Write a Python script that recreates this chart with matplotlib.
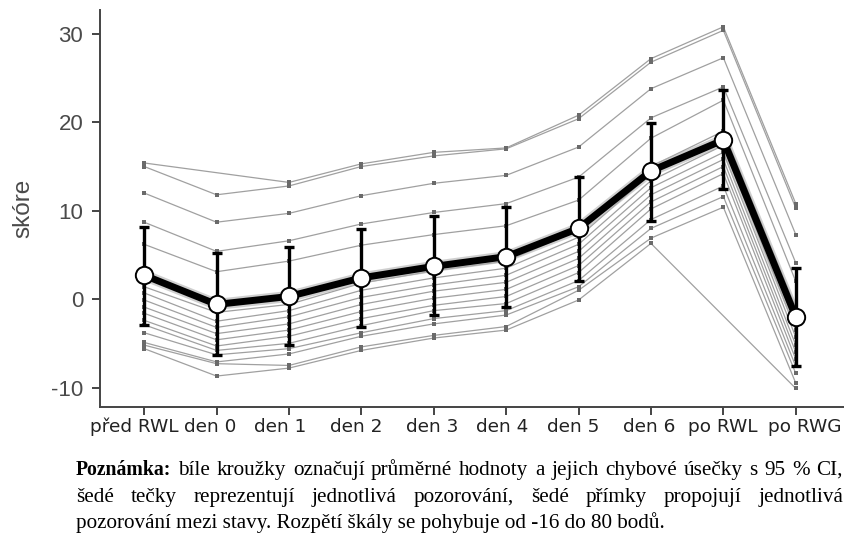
import numpy as np
import matplotlib
matplotlib.use("Agg")
import matplotlib.pyplot as plt
from matplotlib.transforms import ScaledTranslation

states = ["před RWL", "den 0", "den 1", "den 2", "den 3", "den 4",
          "den 5", "den 6", "po RWL", "po RWG"]
nan = np.nan
subjects = [
    [15.4, nan, 13.2, 15.3, 16.6, 17.1, 20.8, 27.2, 30.8, 10.8],
    [15.0, 11.8, 12.8, 15.0, 16.2, 17.0, 20.4, 26.8, 30.4, 10.3],
    [12.0, 8.7, 9.7, 11.7, 13.1, 14.0, 17.2, 23.8, 27.3, 7.3],
    [8.7, 5.4, 6.6, 8.5, 9.8, 10.8, 13.8, 20.5, 24.0, 4.1],
    [6.2, 3.1, 4.3, 6.1, 7.3, 8.3, 11.2, 18.2, 22.5, 2.0],
    [1.4, -1.5, -0.6, 1.8, 3.2, 4.3, 7.8, 15.0, 19.0, -1.0],
    [0.7, -2.5, -1.3, 1.0, 2.4, 3.5, 7.0, 14.2, 18.2, -2.5],
    [-0.1, -3.2, -2.0, 0.2, 1.6, 2.7, 6.2, 13.4, 17.4, -3.5],
    [-0.9, -3.9, -2.8, -0.6, 0.9, 1.9, 5.4, 12.6, 16.6, -4.3],
    [-1.6, -4.6, -3.5, -1.4, 0.1, 1.1, 4.6, 11.8, 15.8, -5.2],
    [-2.4, -5.3, -4.2, -2.2, -0.7, 0.3, 3.8, 11.0, 15.0, -6.0],
    [-2.9, -5.8, -5.0, -3.0, -1.3, -0.5, 3.0, 10.2, 14.2, -6.8],
    [-3.8, -6.3, -5.6, -3.8, -2.2, -1.3, 2.1, 9.0, 12.8, -7.6],
    [-4.9, -7.1, -6.2, -4.2, -2.8, -1.8, 1.4, 8.0, 11.6, -8.4],
    [-5.2, -7.3, -7.5, -5.4, -4.1, -3.1, 1.0, 6.9, 10.4, -9.5],
    [-5.6, -8.7, -7.8, -5.8, -4.4, -3.5, -0.1, 6.3, nan, -10.1],
]
means = [2.7, -0.6, 0.3, 2.4, 3.7, 4.8, 8.0, 14.5, 18.0, -2.0]
ci_lo = [-2.9, -6.3, -5.2, -3.2, -1.8, -0.9, 2.0, 8.8, 12.4, -7.6]
ci_hi = [8.2, 5.2, 5.9, 7.9, 9.4, 10.4, 13.8, 19.9, 23.7, 3.5]
yticks = [-10, 0, 10, 20, 30]

note_l1_bold = "Poznámka:"
note_l1 = "bíle kroužky označují průměrné hodnoty a jejich chybové úsečky s 95 % CI,"
note_l2 = "šedé tečky reprezentují jednotlivá pozorování, šedé přímky propojují jednotlivá"
note_l3 = "pozorování mezi stavy. Rozpětí škály se pohybuje od -16 do 80 bodů."

fig = plt.figure(figsize=(8.45, 5.41), dpi=100)
ax = fig.add_axes([100/845, 134/541, 1 - 100/845, (407-10)/541])

x = np.arange(len(states))
for s in subjects:
    arr = np.array(s, dtype=float)
    m = ~np.isnan(arr)
    ax.plot(x[m], arr[m], color="#a0a0a0", lw=0.9, zorder=1)
    ax.plot(x[m], arr[m], "s", color="#6a6a6a", ms=2.8, mew=0, zorder=2)

ax.plot(x, means, color="#b0b0b0", lw=8, alpha=0.6, zorder=3, solid_capstyle="round")
ax.plot(x, means, color="black", lw=5, zorder=4, solid_joinstyle="round")
lo = np.array(means) - np.array(ci_lo)
hi = np.array(ci_hi) - np.array(means)
ax.errorbar(x, means, yerr=[lo, hi], fmt="none", ecolor="black", elinewidth=2.4,
            capsize=3.6, capthick=2.4, zorder=5)
ax.plot(x, means, "o", ms=12.5, mfc="white", mec="black", mew=1.4, zorder=6)

ax.set_xlim(-0.61, 9.68)
ax.set_ylim(-12.2, 32.7)
ax.set_xticks(x)
ax.set_xticklabels([])
# category labels with small horizontal nudges (pixels), as in the reference
nudges = [-10, -6, -9, -5, -2, -4, -5, -2, -1, 9]
base = ax.get_xaxis_transform()
for xi, lab, dx in zip(x, states, nudges):
    tr = base + ScaledTranslation(dx / 100, -11 / 100, fig.dpi_scale_trans)
    ax.text(xi, 0, lab, transform=tr, ha="center", va="top", fontsize=13.3,
            color="#222222", clip_on=False)
ax.set_yticks(yticks)
ax.set_yticklabels([str(t) for t in yticks], fontsize=16, family="Liberation Sans",
                   color="#4a4a4a")
ax.set_ylabel("skóre", fontsize=17.5, family="Liberation Sans", color="#4a4a4a", labelpad=12)
for sp in ["top", "right"]:
    ax.spines[sp].set_visible(False)
for sp in ["left", "bottom"]:
    ax.spines[sp].set_color("#444444")
    ax.spines[sp].set_linewidth(1.4)
ax.tick_params(axis="x", direction="out", length=6, width=1.4, color="#444444", pad=5)
ax.tick_params(axis="y", direction="out", length=6, width=1.4, color="#444444", pad=6)

# Note text
serif = "Liberation Serif"
fs = 15.2
fsb = 14.2
fig.canvas.draw()
r = fig.canvas.get_renderer()

def width_of(t, size, weight="normal"):
    tt = fig.text(0, 0, t, fontsize=size, family=serif, weight=weight)
    w = tt.get_window_extent(renderer=r).width
    tt.remove()
    return w

def justify(tokens, sizes, weights, y, x0, x1):
    widths = [width_of(t, s, w) for t, s, w in zip(tokens, sizes, weights)]
    gap = (x1 - x0 - sum(widths)) / (len(tokens) - 1)
    xp = x0
    for t, s, w, wd in zip(tokens, sizes, weights, widths):
        fig.text(xp / 845, y, t, fontsize=s, family=serif, weight=w)
        xp += wd + gap

y1 = 1 - 475/541
y2 = 1 - 502/541
y3 = 1 - 528/541

t1 = [note_l1_bold] + note_l1.split(" ")
justify(t1, [fsb] + [fs] * (len(t1) - 1), ["bold"] + ["normal"] * (len(t1) - 1), y1, 76, 843)
t2 = note_l2.split(" ")
justify(t2, [fs] * len(t2), ["normal"] * len(t2), y2, 76, 843)
fig.text(76/845, y3, note_l3, fontsize=fs, family=serif)

fig.savefig("out.png", dpi=100)
